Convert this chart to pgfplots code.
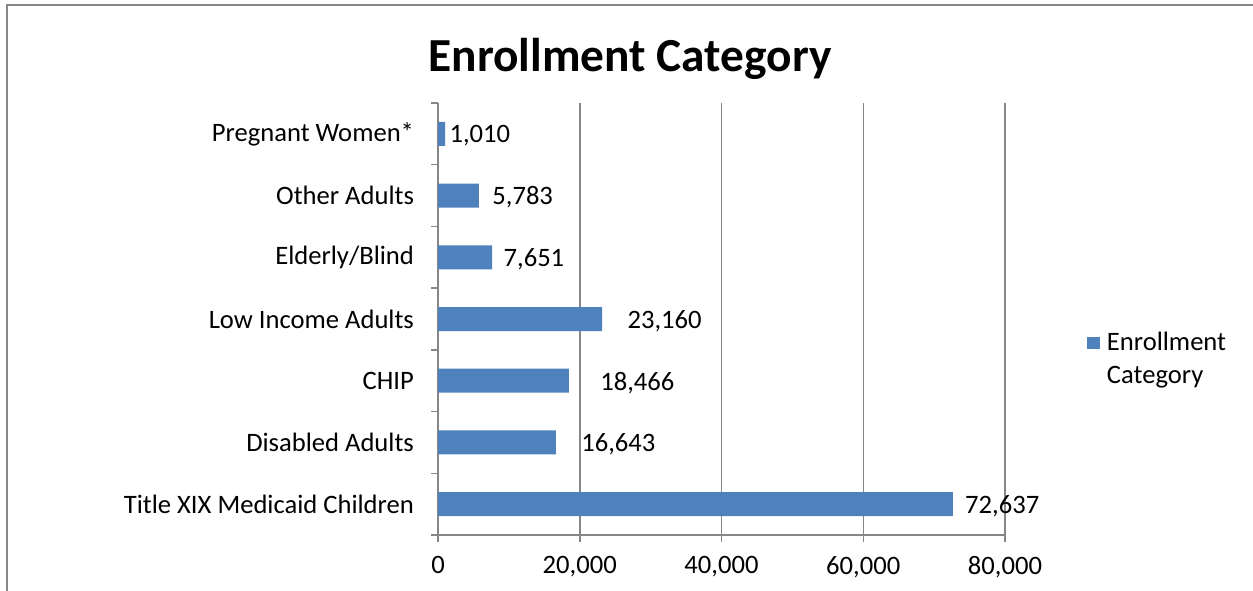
\documentclass[border=0pt]{standalone}
\usepackage{fontspec}
\setmainfont{Carlito}
\usepackage{pgfplots}
\pgfplotsset{compat=1.18}
\usepackage{pgfplotstable}
\definecolor{barblue}{HTML}{4F81BD}
\definecolor{gridgray}{HTML}{868686}
\pgfplotstableread{
y val off
0 72637 6
1 16643 12.5
2 18466 15.5
3 23160 12.5
4 7651 5.5
5 5783 6.5
6 1010 2
}\datatable
\begin{document}
\begin{tikzpicture}
\useasboundingbox (0,0) rectangle (626.5pt,295pt);
\draw[gridgray, line width=0.75pt] (3.5pt,-1pt) -- (3.5pt,292.5pt) -- (627pt,292.5pt);
\node[font=\fontsize{23.7}{28}\selectfont\bfseries, anchor=base, inner sep=0pt] at (315pt,259pt) {Enrollment Category};
\begin{axis}[
  at={(219pt,27.5pt)}, anchor=south west,
  width=283.5pt, height=216pt, scale only axis,
  clip=false,
  xbar, bar width=12pt,
  xmin=0, xmax=80000, ymin=-0.5, ymax=6.5,
  axis x line*=bottom, axis y line*=left,
  axis line style={gridgray, line width=0.75pt, -},
  /pgf/number format/1000 sep={,},
  /pgf/number format/assume math mode=true,
  scaled x ticks=false,
  xtick={0,20000,40000,60000,80000},
  xmajorgrids, grid style={gridgray, line width=0.75pt},
  tick style={gridgray, line width=0.75pt},
  tick align=outside, major tick length=3.5pt,
  ticklabel style={font=\fontsize{13.3}{16}\selectfont, text=black},
  xticklabel style={yshift=-3.5pt},
  ytick={-0.5,0.5,...,6.5}, yticklabels={},
  extra y ticks={0,1,2,3,4,5,6},
  extra y tick labels={Title XIX Medicaid Children, Disabled Adults, CHIP, Low Income Adults, Elderly/Blind, Other Adults, Pregnant Women*},
  extra y tick style={major tick length=0pt, yticklabel style={xshift=-8.5pt}},
  point meta=x,
  visualization depends on={\thisrow{off} \as \off},
  nodes near coords,
  every node near coord/.append style={anchor=west, inner sep=0pt, xshift=\off pt, yshift=-1pt, font=\fontsize{13.3}{16}\selectfont, text=black},
  legend cell align=left,
  legend style={at={(1.1446,0.481)}, anchor=north west, draw=none, fill=none,
    inner sep=0pt, outer sep=0pt, column sep=3.5pt,
    font=\fontsize{13.3}{16.5}\selectfont,
    cells={anchor=base west}, nodes={inner sep=0pt}},
  legend image code/.code={\fill[barblue] (0pt,0.5pt) rectangle (6.5pt,6.5pt);},
]
\addplot[fill=barblue, draw=none] table[x=val, y=y] {\datatable};
\addlegendentry{\begin{tabular}[t]{@{}l@{}}Enrollment\\Category\end{tabular}}
\end{axis}
\end{tikzpicture}
\end{document}
